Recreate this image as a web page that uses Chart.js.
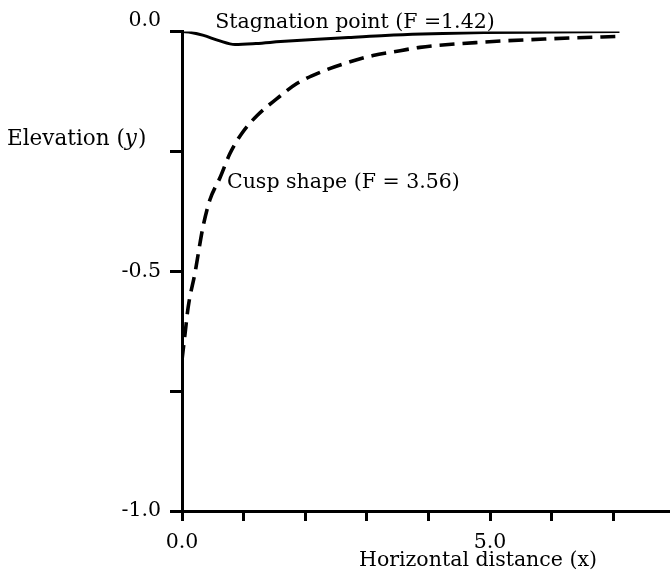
<!DOCTYPE html>
<html>
<head>
<meta charset="utf-8">
<script src="https://cdn.jsdelivr.net/npm/chart.js@4.4.1/dist/chart.umd.min.js"></script>
<style>
  html, body { margin: 0; padding: 0; background: #fff; }
  #wrap { width: 670px; height: 578px; }
</style>
</head>
<body>
<div id="wrap"><canvas id="chart" width="670" height="578"></canvas></div>
<script>
// Stagnation point curve (F = 1.42), solid
const stagX = [0, 0.15, 0.35, 0.6, 0.86, 1.2, 1.6, 2.2, 2.7, 3.3, 3.9, 4.9, 6.0, 7.1];
const stagY = [0, -0.002, -0.008, -0.019, -0.027, -0.025, -0.021, -0.016, -0.0125, -0.008, -0.005, -0.002, -0.001, 0];

// Cusp shape curve (F = 3.56), dashed
const cuspX = [0, 0.05, 0.1, 0.21, 0.34, 0.45, 0.62, 0.78, 0.97, 1.22, 1.54, 1.87, 2.24, 2.68, 3.1, 3.54, 3.86, 4.89, 6.0, 7.1];
const cuspY = [-0.685, -0.63, -0.575, -0.504, -0.408, -0.352, -0.304, -0.254, -0.2125, -0.175, -0.14, -0.108, -0.085, -0.065, -0.05, -0.04, -0.033, -0.022, -0.015, -0.01];

// tick labels shown on the axes
const xTickLabels = { 0: '0.0', 5: '5.0' };
const yTickLabels = { '0': ['0.0', ''], '-0.5': '-0.5', '-1': '-1.0' };

const serif = '"DejaVu Serif", serif';

function toPoints(xs, ys) {
    return xs.map((x, i) => ({ x: x, y: ys[i] }));
}

// draws the curve labels and axis titles
const labelsPlugin = {
    id: 'labels',
    afterDraw(chart) {
        const ctx = chart.ctx;
        const xs = chart.scales.x;
        const ys = chart.scales.y;
        ctx.save();
        ctx.fillStyle = '#000';
        ctx.textBaseline = 'alphabetic';
        ctx.textAlign = 'left';
        ctx.font = '20.5px ' + serif;
        ctx.fillText('Stagnation point (F =1.42)', xs.getPixelForValue(0.54), ys.getPixelForValue(0.008));
        ctx.fillText('Cusp shape (F = 3.56)', xs.getPixelForValue(0.73), ys.getPixelForValue(-0.327));

        // y axis title with italic y
        let x = 7;
        const yy = 145;
        ctx.font = '21.5px ' + serif;
        ctx.fillText('Elevation (', x, yy);
        x += ctx.measureText('Elevation (').width;
        ctx.font = 'italic 21.5px ' + serif;
        ctx.fillText('y', x, yy);
        x += ctx.measureText('y').width + 1;
        ctx.font = '21.5px ' + serif;
        ctx.fillText(')', x, yy);

        ctx.font = '20.5px ' + serif;
        ctx.textAlign = 'center';
        ctx.fillText('Horizontal distance (x)', 478, 566);
        ctx.restore();
    }
};

const ctx = document.getElementById('chart').getContext('2d');
const chart = new Chart(ctx, {
    type: 'scatter',
    data: {
        datasets: [{
            label: 'Stagnation point (F =1.42)',
            data: toPoints(stagX, stagY),
            showLine: true,
            borderColor: '#000',
            borderWidth: 3,
            pointRadius: 0,
            cubicInterpolationMode: 'monotone'
        }, {
            label: 'Cusp shape (F = 3.56)',
            data: toPoints(cuspX, cuspY),
            showLine: true,
            borderColor: '#000',
            borderWidth: 3.6,
            borderDash: [15, 8],
            pointRadius: 0,
            cubicInterpolationMode: 'monotone'
        }]
    },
    options: {
        responsive: false,
        animation: false,
        layout: { padding: { top: 31, right: 0, left: 0, bottom: 0 } },
        plugins: {
            legend: { display: false },
            tooltip: { enabled: false }
        },
        scales: {
            x: {
                type: 'linear',
                min: 0,
                max: 7.92,
                afterFit: s => { s.height = 67; },
                ticks: {
                    stepSize: 1,
                    includeBounds: false,
                    autoSkip: false,
                    maxRotation: 0,
                    padding: 9,
                    color: '#000',
                    font: { family: serif, size: 20.5 },
                    callback: v => xTickLabels[v] || ''
                },
                grid: {
                    drawOnChartArea: false,
                    drawTicks: true,
                    tickLength: 10,
                    tickWidth: 3,
                    tickColor: '#000'
                },
                border: { display: true, color: '#000', width: 3 }
            },
            y: {
                type: 'linear',
                min: -1,
                max: 0,
                afterFit: s => { s.width = 182; },
                ticks: {
                    stepSize: 0.25,
                    autoSkip: false,
                    padding: 9,
                    color: '#000',
                    font: { family: serif, size: 20.5, lineHeight: 1.1 },
                    callback: v => yTickLabels[String(v)] || ''
                },
                grid: {
                    drawOnChartArea: false,
                    drawTicks: true,
                    tickLength: 12,
                    tickWidth: 3,
                    tickColor: '#000'
                },
                border: { display: true, color: '#000', width: 3 }
            }
        }
    },
    plugins: [labelsPlugin]
});
</script>
</body>
</html>
